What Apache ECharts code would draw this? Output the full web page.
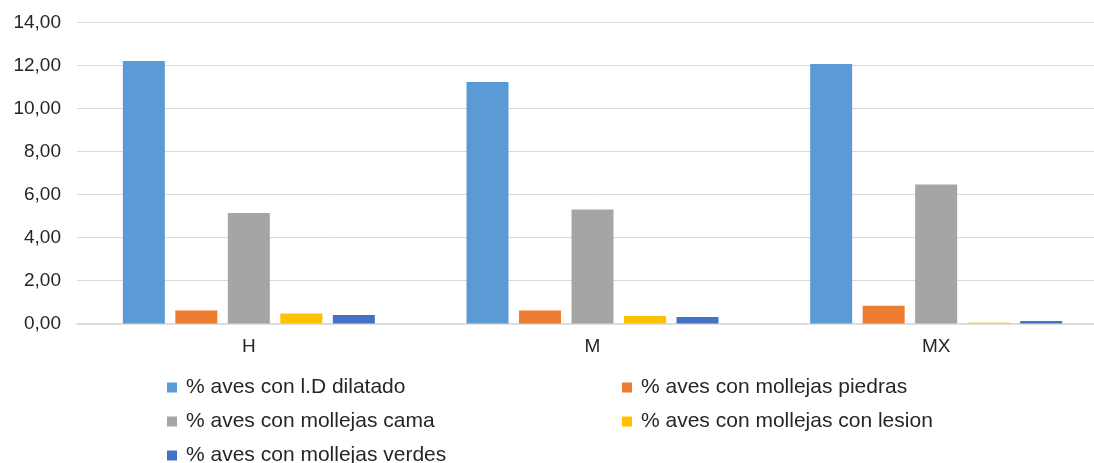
<!DOCTYPE html>
<html>
<head>
<meta charset="utf-8">
<script src="https://cdn.jsdelivr.net/npm/echarts@6/dist/echarts.min.js"></script>
<style>
  html, body { margin: 0; padding: 0; background: #fff; overflow: hidden; }
  #chart { width: 1110px; height: 463px; }
</style>
</head>
<body>
<div id="chart"></div>
<script>
// datos
const categorias = ["H", "M", "MX"];
const nombres = [
  "% aves con l.D dilatado",
  "% aves con mollejas piedras",
  "% aves con mollejas cama",
  "% aves con mollejas con lesion",
  "% aves con mollejas verdes"
];
const dilatado = [12.21, 11.23, 12.07];
const piedras = [0.61, 0.60, 0.83];
const cama = [5.14, 5.30, 6.47];
const lesion = [0.46, 0.35, 0.04];
const verdes = [0.40, 0.30, 0.12];
const colores = ["#5B9BD5", "#ED7D31", "#A5A5A5", "#FFC000", "#4472C4"];

const valores = [dilatado, piedras, cama, lesion, verdes];

const chart = echarts.init(document.getElementById("chart"));

const fuente = "Liberation Sans, Arial, sans-serif";
const textoLeyenda = { color: "#262626", fontSize: 21, fontFamily: fuente, padding: [0, 0, 0, 4] };

// posicion de cada entrada de la leyenda (dos columnas)
const posLeyenda = [[162, 372], [617, 372], [162, 406], [617, 406], [162, 440]];

chart.setOption({
  animation: false,
  grid: { left: 77, top: 22.5, width: 1031, height: 301 },
  legend: nombres.map((n, i) => ({
    data: [n],
    left: posLeyenda[i][0], top: posLeyenda[i][1],
    icon: "rect", itemWidth: 10, itemHeight: 10,
    textStyle: textoLeyenda
  })),
  xAxis: {
    type: "category",
    data: categorias,
    axisLine: { lineStyle: { color: "#d9d9d9", width: 1.5 } },
    axisTick: { show: false },
    axisLabel: { color: "#262626", fontSize: 19, margin: 14, fontFamily: fuente }
  },
  yAxis: {
    type: "value",
    min: 0, max: 14, interval: 2,
    axisLine: { show: false },
    axisTick: { show: false },
    splitLine: { lineStyle: { color: "#d9d9d9", width: 1 } },
    axisLabel: {
      color: "#262626", fontSize: 19, margin: 16, fontFamily: fuente,
      formatter: v => v.toFixed(2).replace(".", ",")
    }
  },
  series: nombres.map((n, i) => ({
    name: n,
    type: "bar",
    data: valores[i],
    barWidth: 42,
    barGap: "25%",
    itemStyle: { color: colores[i] }
  }))
});
</script>
</body>
</html>
